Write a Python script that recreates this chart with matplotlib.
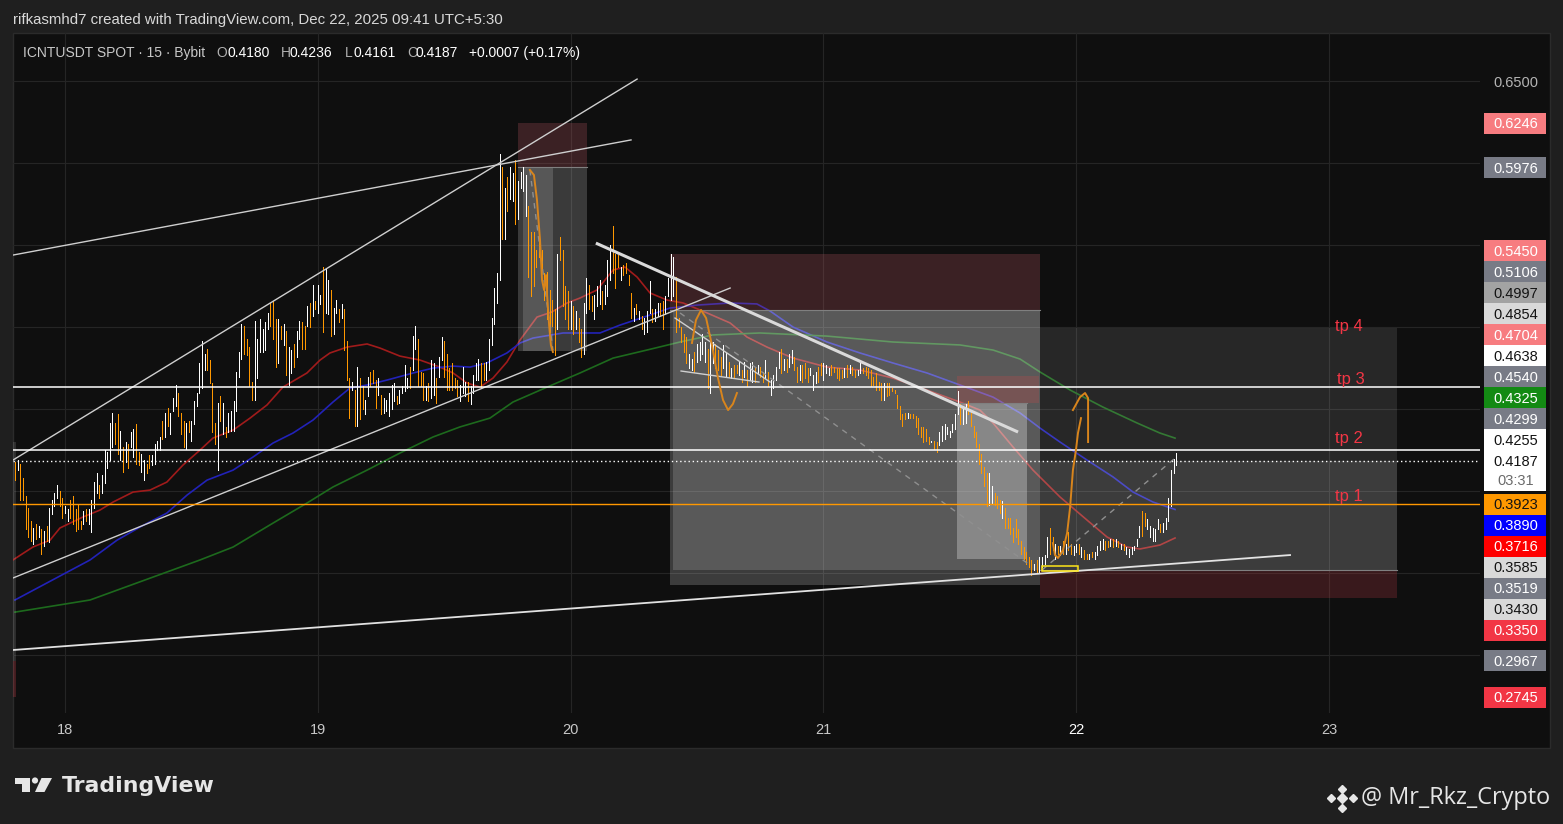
import numpy as np
import matplotlib.pyplot as plt
from matplotlib.patches import Rectangle, Polygon, Ellipse
from matplotlib.transforms import blended_transform_factory, IdentityTransform

plt.rcParams['font.family'] = ['Liberation Sans', 'DejaVu Sans']

# ICNTUSDT spot, Bybit, 15 minute bars starting Dec 17 19:15
bar_start = 17 + 77 / 96
bar_minutes = 15

highs = [
    .418, .419, .417, .408, .397, .390, .382, .378, .380, .379,
    .377, .376, .379, .390, .395, .399, .404, .400, .396, .391,
    .389, .395, .397, .389, .392, .382, .388, .389, .389, .395,
    .406, .411, .404, .410, .425, .424, .442, .448, .442, .447,
    .437, .427, .430, .429, .436, .438, .441, .424, .423, .419,
    .417, .422, .422, .429, .431, .433, .443, .448, .451, .448,
    .457, .465, .460, .448, .443, .442, .443, .443, .455, .460,
    .478, .492, .484, .487, .480, .466, .442, .454, .458, .454,
    .439, .448, .449, .455, .473, .485, .502, .501, .493, .488,
    .467, .504, .493, .505, .499, .503, .509, .515, .516, .505,
    .505, .501, .502, .498, .488, .486, .490, .498, .504, .503,
    .501, .513, .515, .526, .516, .526, .520, .537, .536, .529,
    .523, .512, .517, .511, .514, .511, .492, .469, .467, .462,
    .476, .469, .464, .456, .470, .473, .474, .468, .469, .459,
    .457, .456, .460, .465, .466, .458, .462, .464, .477, .469,
    .476, .495, .501, .493, .473, .472, .464, .466, .480, .478,
    .469, .482, .494, .492, .484, .475, .478, .469, .468, .465,
    .476, .467, .467, .464, .471, .478, .481, .478, .478, .479,
    .493, .506, .524, .533, .606,
    .598, .585, .592, .598, .594, .602, .589, .595, .598, .593,
    .574, .558, .558, .547, .556, .547, .533, .534, .523, .517,
    .511, .545, .555, .547, .525, .522, .516, .513, .510, .506,
    .499, .515, .530, .526, .519, .520, .525, .529, .522, .526,
    .541, .550, .562, .545, .544, .537, .538, .539, .532, .521,
    .512, .514, .510, .507, .506, .510, .528, .511, .511, .515,
    .515, .516, .519, .530, .545, .543,
    .531, .506, .500, .496, .494, .484, .481, .485, .490, .491,
    .496, .491, .487, .491, .491, .490, .486, .482, .489, .485,
    .479, .475, .477, .477, .479, .474, .479, .474, .478, .479,
    .475, .477, .476, .473, .480, .473, .468, .471, .476, .485,
    .487, .481, .481, .484, .486, .482, .476, .477, .477, .478,
    .475, .475, .471, .473, .476, .478, .478, .477, .475, .477,
    .476, .475, .475, .474, .475, .477, .477, .476, .474, .474,
    .478, .475, .476, .475, .474, .470, .472, .467, .466, .466,
    .466, .466, .463, .462, .459, .452, .447, .448, .448, .447,
    .447, .446, .445, .439, .439, .438, .433, .431, .431, .430,
    .436, .440, .441, .439, .437, .441, .447, .461, .453, .452,
    .453, .455, .448, .440, .436, .429, .423, .415, .411, .411,
    .403, .399, .397, .395, .394, .390, .384, .384, .378, .383,
    .377, .370, .366, .363, .360, .358, .356, .358, .360, .360,
    .361, .372, .378,
    .372, .368, .367, .367, .370, .368, .375, .368, .367, .368,
    .368, .366, .364, .362, .362, .363, .363, .367, .370, .371,
    .370, .370, .371, .371, .371, .370, .368, .368, .366, .365,
    .366, .367, .371, .379, .388, .387, .383, .379, .378, .377,
    .383, .380, .381, .384, .396, .413, .420, .4236,
]
lows = [
    .407, .413, .395, .395, .377, .372, .370, .368, .371, .372,
    .362, .367, .370, .369, .386, .391, .396, .391, .384, .387,
    .382, .384, .380, .376, .377, .377, .380, .382, .380, .375,
    .390, .399, .396, .399, .405, .414, .419, .427, .429, .423,
    .419, .412, .418, .414, .427, .421, .417, .416, .412, .407,
    .411, .414, .416, .417, .425, .425, .432, .433, .440, .435,
    .449, .452, .446, .435, .427, .426, .436, .431, .441, .452,
    .460, .463, .474, .474, .466, .436, .429, .413, .443, .435,
    .433, .436, .437, .437, .449, .470, .481, .484, .483, .464,
    .456, .456, .469, .485, .485, .486, .499, .501, .493, .476,
    .478, .493, .489, .471, .465, .472, .476, .482, .493, .487,
    .487, .501, .500, .507, .511, .509, .514, .497, .509, .508,
    .495, .496, .509, .503, .506, .486, .468, .445, .462, .440,
    .440, .444, .450, .447, .458, .464, .466, .451, .459, .447,
    .448, .449, .446, .450, .455, .453, .454, .460, .461, .463,
    .463, .474, .487, .464, .464, .456, .456, .455, .457, .459,
    .454, .470, .480, .470, .462, .462, .462, .463, .458, .455,
    .460, .458, .455, .453, .460, .468, .468, .463, .468, .468,
    .474, .489, .502, .515, .529,
    .554, .554, .571, .578, .577, .563, .566, .585, .583, .568,
    .531, .519, .525, .537, .543, .535, .517, .505, .497, .501,
    .483, .499, .541, .513, .505, .499, .499, .496, .499, .491,
    .482, .484, .509, .511, .510, .505, .513, .514, .511, .514,
    .519, .529, .533, .524, .537, .529, .532, .533, .526, .506,
    .504, .508, .505, .499, .496, .497, .509, .503, .504, .507,
    .507, .499, .508, .519, .517, .519,
    .497, .500, .491, .485, .478, .475, .474, .473, .479, .480,
    .484, .479, .463, .460, .478, .475, .474, .471, .475, .470,
    .470, .469, .470, .472, .471, .467, .470, .464, .468, .467,
    .467, .472, .470, .467, .469, .464, .459, .463, .468, .475,
    .472, .474, .473, .476, .478, .474, .467, .468, .467, .469,
    .467, .471, .462, .466, .467, .471, .468, .472, .471, .471,
    .473, .469, .468, .469, .470, .470, .472, .471, .470, .471,
    .472, .472, .471, .469, .464, .465, .462, .462, .456, .456,
    .458, .459, .461, .460, .451, .444, .440, .444, .445, .445,
    .445, .439, .435, .433, .430, .431, .429, .430, .426, .424,
    .428, .431, .432, .435, .433, .436, .438, .447, .441, .441,
    .442, .447, .440, .433, .427, .417, .411, .403, .391, .392,
    .393, .392, .390, .387, .384, .378, .378, .374, .369, .372,
    .368, .362, .359, .356, .354, .349, .352, .351, .350, .354,
    .356, .360, .362,
    .364, .359, .362, .361, .362, .362, .364, .362, .361, .363,
    .362, .360, .359, .359, .359, .360, .359, .361, .364, .365,
    .364, .366, .367, .366, .367, .366, .365, .364, .362, .360,
    .362, .364, .367, .372, .373, .379, .377, .372, .370, .370,
    .377, .375, .375, .377, .382, .391, .411, .4161,
]
# u = close above open (white), d = close below open (orange)
direction = (
    "dudddddudu" "duduuuuddu" "uddddduduu" "uuduuuuudd" "ududuudduu"
    "dduuuududu" "uuddduduuu" "uuuddddudu" "duuuuuuddd" "duuuuuuddd"
    "ududuuduud" "dududuuduu" "duududddud" "udduudddud" "uuuuuduuuu"
    "duuddduduu" "duuddddddu" "uuduuuuddu" "uuuuu"
    "duduuduuuu" "dddddddddd" "duddddudud" "duudduuudu" "uudddudddd"
    "ududuuuduu" "dduuuu"
    "ddddduuduu" "uuduuddduu" "duddududuu" "dudduduuuu" "duduuddudd"
    "duuudduuud" "ddddududdu" "uddddddddu" "ddddddddud" "dddddddudd"
    "uuuuuuuudu" "uddddddddu" "uddduddddd" "dddddduduu" "uud"
    "dudududduu" "dudduduuuu" "ddudududuu" "uuuudduuuu" "uduuuuuu"
)

# moving averages (day of month, price)
ma_red_day = [17.794, 17.873, 17.941, 17.980, 18.071, 18.138, 18.190, 18.269, 18.336, 18.403,
              18.467, 18.534, 18.585, 18.665, 18.732, 18.799, 18.862, 18.957, 19.009, 19.048,
              19.116, 19.195, 19.246, 19.325, 19.404, 19.483, 19.535, 19.590, 19.642, 19.693,
              19.748, 19.800, 19.867, 19.926, 19.986, 20.037, 20.104, 20.168, 20.215, 20.263,
              20.314, 20.381, 20.445, 20.540, 20.631, 20.698, 20.777, 20.880, 21.014, 21.145,
              21.275, 21.410, 21.540, 21.619, 21.671, 21.750, 21.829, 21.936, 22.043, 22.122,
              22.201, 22.252, 22.331, 22.391]
ma_red = [0.3582, 0.3661, 0.3703, 0.3777, 0.3844, 0.3886, 0.3935, 0.3996, 0.4008, 0.4057,
          0.4161, 0.4252, 0.4325, 0.4374, 0.4447, 0.4527, 0.4636, 0.4722, 0.4801, 0.4844,
          0.4880, 0.4899, 0.4874, 0.4825, 0.4801, 0.4758, 0.4722, 0.4661, 0.4636, 0.4691,
          0.4789, 0.4923, 0.5063, 0.5094, 0.5149, 0.5179, 0.5228, 0.5350, 0.5368, 0.5307,
          0.5210, 0.5167, 0.5149, 0.5088, 0.5027, 0.4941, 0.4880, 0.4813, 0.4758, 0.4740,
          0.4691, 0.4618, 0.4545, 0.4496, 0.4417, 0.4271, 0.4130, 0.3966, 0.3825, 0.3722,
          0.3661, 0.3649, 0.3673, 0.3716]
ma_blue_day = [17.802, 18.099, 18.206, 18.297, 18.403, 18.483, 18.562, 18.665, 18.744, 18.823,
               18.902, 18.981, 19.060, 19.127, 19.195, 19.274, 19.377, 19.456, 19.535, 19.602,
               19.669, 19.748, 19.800, 19.851, 19.970, 20.116, 20.195, 20.302, 20.393, 20.500,
               20.631, 20.737, 20.789, 20.880, 21.014, 21.145, 21.275, 21.410, 21.540, 21.671,
               21.778, 21.857, 21.936, 22.043, 22.146, 22.225, 22.304, 22.391]
ma_blue = [0.3338, 0.3582, 0.3703, 0.3783, 0.3868, 0.3978, 0.4069, 0.4130, 0.4210, 0.4295,
           0.4356, 0.4435, 0.4545, 0.4630, 0.4649, 0.4679, 0.4722, 0.4752, 0.4764, 0.4758,
           0.4783, 0.4844, 0.4905, 0.4935, 0.4966, 0.4966, 0.5014, 0.5069, 0.5118, 0.5136,
           0.5149, 0.5143, 0.5100, 0.5002, 0.4911, 0.4844, 0.4783, 0.4722, 0.4649, 0.4575,
           0.4478, 0.4386, 0.4301, 0.4191, 0.4088, 0.3996, 0.3935, 0.3890]
ma_green_day = [17.802, 18.099, 18.534, 18.665, 18.823, 18.957, 19.060, 19.195, 19.325, 19.456,
                19.562, 19.681, 19.772, 19.907, 20.037, 20.168, 20.302, 20.433, 20.563, 20.749,
                21.014, 21.275, 21.540, 21.671, 21.778, 21.857, 21.976, 22.106, 22.241, 22.331,
                22.391]
ma_green = [0.3264, 0.3338, 0.3582, 0.3661, 0.3807, 0.3929, 0.4027, 0.4130, 0.4234, 0.4332,
            0.4393, 0.4447, 0.4545, 0.4636, 0.4722, 0.4813, 0.4862, 0.4911, 0.4954, 0.4966,
            0.4947, 0.4911, 0.4893, 0.4862, 0.4807, 0.4728, 0.4618, 0.4514, 0.4417, 0.4356,
            0.4325]

# levels on the price scale
level_price = [0.6246, 0.5976, 0.5450, 0.5106, 0.4997, 0.4854, 0.4704, 0.4638, 0.4540, 0.4325,
               0.4299, 0.4255, 0.3923, 0.3890, 0.3716, 0.3585, 0.3519, 0.3430, 0.3350, 0.2967,
               0.2745]
level_kind = ['stop', 'entry', 'stop', 'entry', 'mid', 'light', 'stop', 'line', 'entry', 'green',
              'entry', 'line', 'orange', 'blue', 'red', 'light', 'entry', 'light', 'loss', 'entry',
              'loss']
last_price = 0.4187
countdown = "03:31"
grid_prices = [0.30, 0.35, 0.40, 0.45, 0.50, 0.55, 0.60, 0.65]
day_ticks = [18, 19, 20, 21, 22, 23]

white_levels = [0.4638, 0.4255]
orange_level = 0.3923
tp_text = ['tp 4', 'tp 3', 'tp 2', 'tp 1']
tp_day = [23.024, 23.032, 23.024, 23.024]
tp_price = [0.4978, 0.4655, 0.4295, 0.3941]

# drawings: (day0, price0, day1, price1)
thin_lines = [(17.794, 0.4191, 20.263, 0.6514),
              (17.794, 0.5441, 20.239, 0.6143),
              (17.794, 0.3472, 20.631, 0.5240),
              (20.413, 0.5057, 20.789, 0.4667),
              (20.437, 0.4734, 20.745, 0.4667)]
support_line = (17.794, 0.3033, 22.846, 0.3612)
down_line = (20.100, 0.5514, 21.770, 0.4362)
dashed_lines = [(20.433, 0.5088, 21.817, 0.3551),
                (21.865, 0.3521, 22.391, 0.4203),
                (19.839, 0.5960, 19.930, 0.4862)]
path1_day = [19.839, 19.855, 19.867, 19.879, 19.887, 19.895, 19.903, 19.907, 19.915, 19.922, 19.930]
path1 = [0.5960, 0.5929, 0.5777, 0.5533, 0.5289, 0.5228, 0.5319, 0.5197, 0.5014, 0.4893, 0.4850]
path2_day = [20.480, 20.496, 20.516, 20.536, 20.559, 20.583, 20.603, 20.623, 20.642, 20.658]
path2 = [0.4905, 0.5045, 0.5106, 0.5057, 0.4893, 0.4691, 0.4557, 0.4496, 0.4533, 0.4600]
path3_day = [21.908, 21.916, 21.928, 21.948, 21.964, 21.976, 21.987, 21.999, 22.007, 22.019]
path3 = [0.3685, 0.3612, 0.3594, 0.3643, 0.3746, 0.3905, 0.4130, 0.4252, 0.4356, 0.4447]
path4_day = [21.987, 22.015, 22.035, 22.047, 22.047, 22.047]
path4 = [0.4496, 0.4575, 0.4600, 0.4569, 0.4496, 0.4301]

# position boxes: (day0, day1, price_low, price_high)
zone_a = [(19.792, 20.065, 0.5976, 0.6246), (19.792, 20.065, 0.4854, 0.5976), (19.812, 19.930, 0.4854, 0.5976)]
zone_b = [(20.393, 21.857, 0.5106, 0.5450), (20.393, 21.857, 0.3430, 0.5106), (20.405, 21.857, 0.3519, 0.5106)]
zone_c = [(21.528, 21.853, 0.4540, 0.4704), (21.528, 21.805, 0.3585, 0.4540)]
zone_d = [(21.857, 23.269, 0.4187, 0.4997), (21.857, 23.269, 0.3519, 0.4187), (21.857, 23.269, 0.3350, 0.3519)]
zone_e = [(17.60, 17.805, 0.2967, 0.4299), (17.60, 17.805, 0.2745, 0.2967)]
marked = (21.865, 22.007, 0.3515, 0.3545)

# ---------------- figure ----------------
W, H = 1563, 824
fig = plt.figure(figsize=(W / 100, H / 100), dpi=100)
fig.patch.set_facecolor('#1f1f1f')


def fx(x):
    return x / W


def fy(y):
    return 1 - y / H


fig.add_artist(Rectangle((fx(12.5), fy(748)), (1550 - 12.5) / W, (748 - 33) / H,
                         transform=fig.transFigure, fc='#0f0f0f', ec='#2b2b2b', lw=1, zorder=-1))

ax = fig.add_axes([fx(13), fy(713), (1480 - 13) / W, (713 - 33) / H])
ax.set_facecolor('none')
for s in ax.spines.values():
    s.set_visible(False)
ax.set_xlim(17.7943, 23.5973)
ax.set_ylim(0.2649, 0.6795)
ax.set_yticks(grid_prices)
ax.set_yticklabels([])
ax.set_xticks(day_ticks)
ax.set_xticklabels([str(d) for d in day_ticks])
ax.tick_params(length=0, colors='#c8c8c8', labelsize=10.5, pad=7)
for lab in ax.get_xticklabels():
    if lab.get_text() == '22':
        lab.set_color('#ffffff')
ax.grid(True, color='#252525', lw=0.8, zorder=0)
ax.set_axisbelow(True)

# moving averages
ax.plot(ma_red_day, ma_red, color='#a01b1b', lw=1.2, zorder=1)
ax.plot(ma_blue_day, ma_blue, color='#2222b8', lw=1.2, zorder=1)
ax.plot(ma_green_day, ma_green, color='#1d6a1d', lw=1.2, zorder=1)


def box(b, color, alpha):
    ax.add_patch(Rectangle((b[0], b[2]), b[1] - b[0], b[3] - b[2], fc=color, alpha=alpha,
                           ec='none', zorder=2))


box(zone_a[0], '#c05a64', 0.25)
box(zone_a[1], '#ffffff', 0.18)
box(zone_a[2], '#ffffff', 0.15)
box(zone_b[0], '#c05a64', 0.25)
box(zone_b[1], '#ffffff', 0.19)
box(zone_b[2], '#ffffff', 0.15)
box(zone_c[0], '#ff4040', 0.18)
box(zone_c[1], '#ffffff', 0.28)
box(zone_d[0], '#ffffff', 0.10)
box(zone_d[1], '#ffffff', 0.19)
box(zone_d[2], '#c03c46', 0.24)
box(zone_e[0], '#ffffff', 0.12)
box(zone_e[1], '#c03c46', 0.30)
for z in (zone_a[1], zone_b[1], zone_c[1], zone_d[2]):
    ax.plot([z[0], z[1]], [z[3], z[3]], color='#808080', lw=0.8, zorder=2.5)
ax.add_patch(Rectangle((marked[0], marked[2]), marked[1] - marked[0], marked[3] - marked[2],
                       fc='none', ec='#ffe619', lw=1.1, zorder=5))

# candles (thin bars, 1 px wide)
t = bar_start + np.arange(len(highs)) * bar_minutes / (24 * 60)
hi = np.array(highs)
lo = np.array(lows)
up = np.array([c == 'u' for c in direction])
ax.vlines(t[up], lo[up], hi[up], color='#ffffff', lw=0.72, zorder=3, antialiased=False)
ax.vlines(t[~up], lo[~up], hi[~up], color='#ff9800', lw=0.72, zorder=3, antialiased=False)

# drawings
for d0, p0, d1, p1 in thin_lines:
    ax.plot([d0, d1], [p0, p1], color='#cfcfcf', lw=1.0, zorder=4)
ax.plot([support_line[0], support_line[2]], [support_line[1], support_line[3]],
        color='#e2e2e2', lw=1.3, zorder=4)
ax.plot([down_line[0], down_line[2]], [down_line[1], down_line[3]],
        color='#dadada', lw=2.2, zorder=4, solid_capstyle='butt')
for d0, p0, d1, p1 in dashed_lines:
    ax.plot([d0, d1], [p0, p1], color='#8f8f8f', lw=1.0, ls=(0, (4, 4)), zorder=4)
for pd_, pp in ((path1_day, path1), (path2_day, path2), (path3_day, path3), (path4_day, path4)):
    ax.plot(pd_, pp, color='#d9851c', lw=1.4, zorder=5, solid_joinstyle='round')

for p in white_levels:
    ax.axhline(p, color='#ffffff', lw=1.1, zorder=4)
ax.axhline(last_price, color='#ffffff', lw=1.0, ls=(0, (1, 2)), zorder=4)
ax.axhline(orange_level, color='#ff9800', lw=1.0, zorder=4)

for s, d, p in zip(tp_text, tp_day, tp_price):
    ax.text(d, p, s, color='#f23645', fontsize=12, ha='left', va='baseline', zorder=6)

# ---------------- price scale ----------------
axp = fig.add_axes([fx(1480), fy(713), 70 / W, (713 - 33) / H])
axp.set_xlim(1480, 1550)
axp.set_ylim(ax.get_ylim())
axp.axis('off')
tr = blended_transform_factory(axp.transData, IdentityTransform())


def to_disp(p):
    return ax.transData.transform((ax.get_xlim()[0], p))[1]


styles = {'stop': ('#f77c80', '#ffffff'), 'entry': ('#787b86', '#ffffff'),
          'mid': ('#a3a3a3', '#131313'), 'light': ('#d9d9d9', '#131313'),
          'line': ('#ffffff', '#131313'), 'green': ('#138a13', '#ffffff'),
          'orange': ('#ff9800', '#131313'), 'blue': ('#0000ff', '#ffffff'),
          'red': ('#ff0000', '#ffffff'), 'loss': ('#f23645', '#ffffff')}
half = 10.5
digit_half = 5.2

# stack the labels like the price scale does: nothing overlaps the live price tag
y_last = to_disp(last_price)
label_y = {}
limit = y_last + half
for p in sorted(q for q in level_price if q > last_price):
    y = max(to_disp(p), limit + half)
    label_y[p] = y
    limit = y + half
limit = y_last - 30.5
for p in sorted((q for q in level_price if q < last_price), reverse=True):
    y = min(to_disp(p), limit - half)
    label_y[p] = y
    limit = y - half

taken = [(y - half, y + half) for y in label_y.values()] + [(y_last - 30.5, y_last + half)]
for g in grid_prices:
    yg = to_disp(g)
    if any(lo_ - 7 < yg < hi_ + 7 for lo_, hi_ in taken):
        continue
    axp.text(1516, yg - digit_half, '%.4f' % g, transform=tr, ha='center', va='baseline',
             color='#b4b4b4', fontsize=10.5, zorder=1)

for p, kind in zip(level_price, level_kind):
    bg, fg = styles[kind]
    y = label_y[p]
    axp.add_patch(Rectangle((1484, y - half), 62, 2 * half, transform=tr, fc=bg, ec='none',
                            zorder=2, clip_on=False))
    axp.text(1516, y - digit_half, '%.4f' % p, transform=tr, ha='center', va='baseline',
             color=fg, fontsize=10.5, zorder=3)

axp.add_patch(Rectangle((1484, y_last - 30.5), 62, 41, transform=tr, fc='#ffffff', ec='none',
                        zorder=2, clip_on=False))
axp.text(1516, y_last - digit_half, '%.4f' % last_price, transform=tr, ha='center',
         va='baseline', color='#131313', fontsize=10.5, zorder=3)
axp.text(1516, y_last - 19.5 - digit_half, countdown, transform=tr, ha='center',
         va='baseline', color='#6a6a6a', fontsize=10.5, zorder=3)

# ---------------- header / legend ----------------
fig.text(fx(13), fy(20), 'rifkasmhd7 created with TradingView.com, Dec 22, 2025 09:41 UTC+5:30',
         color='#d9d9d9', fontsize=10.8, va='center', ha='left')
legend_parts = [(23, 'ICNTUSDT SPOT · 15 · Bybit', '#c8c8c8'),
                (216, 'O', '#b0b0b0'), (228, '0.4180', '#ffffff'),
                (281, 'H', '#b0b0b0'), (290, '0.4236', '#ffffff'),
                (345, 'L', '#b0b0b0'), (353, '0.4161', '#ffffff'),
                (407, 'C', '#b0b0b0'), (415, '0.4187', '#ffffff'),
                (469, '+0.0007 (+0.17%)', '#ffffff')]
for x, s, c in legend_parts:
    fig.text(fx(x), fy(53), s, color=c, fontsize=10, va='center', ha='left')

# ---------------- footer ----------------
logo_c = '#e6e6e6'
fig.add_artist(Polygon([(fx(15), fy(778)), (fx(30), fy(778)), (fx(30), fy(792)), (fx(22), fy(792)),
                        (fx(22), fy(784)), (fx(15), fy(784))], closed=True,
                       transform=fig.transFigure, fc=logo_c, ec='none'))
fig.add_artist(Ellipse((fx(35), fy(780.5)), 6.2 / W, 6.2 / H, transform=fig.transFigure,
                       fc=logo_c, ec='none'))
fig.add_artist(Polygon([(fx(41.5), fy(778)), (fx(52), fy(778)), (fx(44.5), fy(792)), (fx(35), fy(792))],
                       closed=True, transform=fig.transFigure, fc=logo_c, ec='none'))
fig.text(fx(62), fy(786), 'TradingView', color=logo_c, fontsize=15.8, fontweight='bold',
         family='DejaVu Sans', va='center', ha='left')

for (x, y, s) in [(1342, 798, 5.0), (1331, 798, 3.6), (1353, 798, 3.6), (1342, 788.5, 4.2),
                  (1342, 807.5, 4.2)]:
    fig.add_artist(plt.Line2D([fx(x)], [fy(y)], marker='D', ms=s, color='#e6e6e6',
                              transform=fig.transFigure, ls='none'))
fig.text(fx(1361), fy(798), '@ Mr_Rkz_Crypto', color='#e6e6e6', fontsize=16.9,
         family=['Open Sans', 'DejaVu Sans'], va='center', ha='left')

fig.savefig('out.png', dpi=100, facecolor=fig.get_facecolor())
